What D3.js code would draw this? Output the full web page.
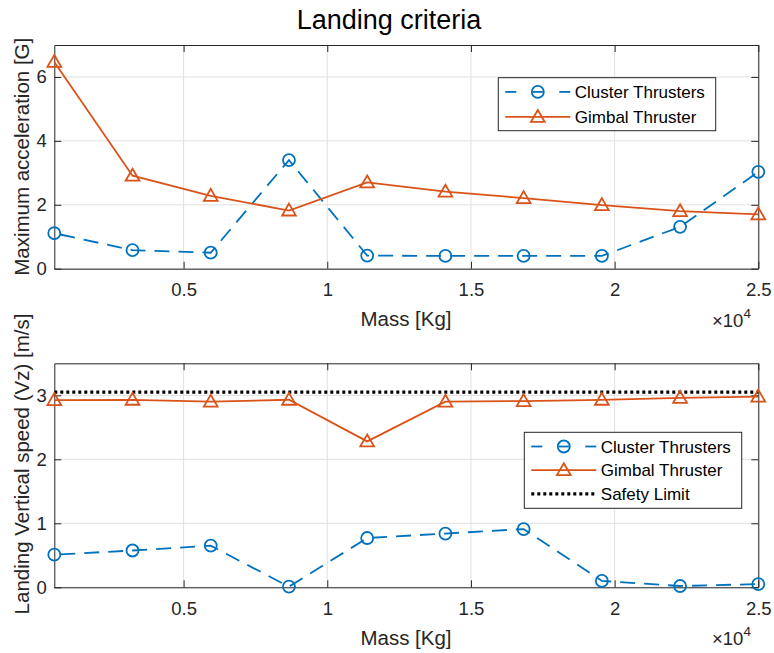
<!DOCTYPE html>
<html><head><meta charset="utf-8">
<script src="https://cdn.jsdelivr.net/npm/d3@7"></script>
<style>body{margin:0;background:#fff;} text{font-family:"Liberation Sans",Arial,sans-serif;}</style>
</head><body><svg id="c" width="774" height="653"></svg>
<script>
const mass = [500, 3222, 5944, 8667, 11389, 14111, 16833, 19556, 22278, 25000];
const accCluster = [1.11, 0.58, 0.50, 3.40, 0.41, 0.40, 0.40, 0.40, 1.31, 3.03];
const accGimbal = [6.47, 2.91, 2.28, 1.82, 2.70, 2.41, 2.21, 1.99, 1.80, 1.70];
const vzCluster = [0.51, 0.575, 0.65, 0.01, 0.77, 0.84, 0.91, 0.10, 0.02, 0.05];
const vzGimbal = [2.925, 2.93, 2.90, 2.93, 2.28, 2.90, 2.91, 2.93, 2.96, 2.98];
const safetyLimit = 3.05;
const xTicks = [5000, 10000, 15000, 20000, 25000];
const xTickLabels = ["0.5", "1", "1.5", "2", "2.5"];
const accTicks = [0, 2, 4, 6];
const vzTicks = [0, 1, 2, 3];
const seriesNames = ["Cluster Thrusters", "Gimbal Thruster", "Safety Limit"];

const BLUE = "#0072BD", ORANGE = "#D95319", AX = "#262626";
const LW = 1.8;
const svg = d3.select("#c");

svg.append("text").attr("x", 389).attr("y", 28.5).attr("text-anchor", "middle")
  .attr("font-size", 27).attr("fill", "#000").text("Landing criteria");

const tri = d3.symbol().type(d3.symbolTriangle).size(82);

function panel(top, bottom, yMax, yTicks, cl, gb, ylabel, ylabelY, legendBox, rowStep, withSafety) {
  const left = 54.3, right = 758.3;
  const x = d3.scaleLinear().domain([500, 25000]).range([left, right]);
  const y = d3.scaleLinear().domain([0, yMax]).range([bottom, top]);
  const g = svg.append("g");
  // grid
  g.selectAll(".gx").data(xTicks).enter().append("line")
    .attr("x1", d => x(d)).attr("x2", d => x(d)).attr("y1", top).attr("y2", bottom)
    .attr("stroke", "#e0e0e0").attr("stroke-width", 1);
  g.selectAll(".gy").data(yTicks).enter().append("line")
    .attr("x1", left).attr("x2", right).attr("y1", d => y(d)).attr("y2", d => y(d))
    .attr("stroke", "#e0e0e0").attr("stroke-width", 1);
  // axes with inward ticks
  const ax = d3.axisBottom(x).tickValues(xTicks).tickFormat((d, i) => xTickLabels[i]).tickSizeInner(-7).tickSizeOuter(0).tickPadding(14.5);
  const ay = d3.axisLeft(y).tickValues(yTicks).tickFormat(d3.format("d")).tickSizeInner(-7).tickSizeOuter(0).tickPadding(7.5);
  const axT = d3.axisTop(x).tickValues(xTicks).tickFormat("").tickSizeInner(-7).tickSizeOuter(0);
  const ayR = d3.axisRight(y).tickValues(yTicks).tickFormat("").tickSizeInner(-7).tickSizeOuter(0);
  [g.append("g").attr("transform", `translate(0,${bottom})`).call(ax),
   g.append("g").attr("transform", `translate(${left},0)`).call(ay),
   g.append("g").attr("transform", `translate(0,${top})`).call(axT),
   g.append("g").attr("transform", `translate(${right},0)`).call(ayR)].forEach(s => {
    s.select(".domain").attr("stroke", AX).attr("stroke-width", 1);
    s.selectAll(".tick line").attr("stroke", AX);
    s.selectAll(".tick text").attr("fill", AX).attr("font-size", 18.5)
      .attr("font-family", "'Liberation Sans',Arial,sans-serif");
  });
  // labels
  g.append("text").attr("x", 406).attr("y", bottom + 57.5).attr("text-anchor", "middle")
    .attr("font-size", 20.5).attr("fill", AX).text("Mass [Kg]");
  const xt = g.append("text").attr("x", 712).attr("y", bottom + 58).attr("font-size", 18.5).attr("fill", AX);
  xt.append("tspan").text("\u00d710");
  xt.append("tspan").attr("font-size", 13.5).attr("dy", -9).text("4");
  g.append("text").attr("transform", `translate(28.5,${ylabelY}) rotate(-90)`)
    .attr("text-anchor", "middle").attr("font-size", 20.5).attr("fill", AX).text(ylabel);

  if (withSafety) {
    g.append("line").attr("x1", left).attr("x2", right).attr("y1", y(safetyLimit)).attr("y2", y(safetyLimit))
      .attr("stroke", "#000").attr("stroke-width", 3.2).attr("stroke-dasharray", "3,3");
  }
  const line = d3.line().x((d, i) => x(mass[i])).y(d => y(d));
  g.append("path").datum(cl).attr("d", line).attr("fill", "none").attr("stroke", BLUE)
    .attr("stroke-width", LW).attr("stroke-dasharray", "15,9").attr("stroke-dashoffset", -6);
  g.append("path").datum(gb).attr("d", line).attr("fill", "none").attr("stroke", ORANGE)
    .attr("stroke-width", LW);
  g.selectAll(".mc").data(cl).enter().append("circle")
    .attr("cx", (d, i) => x(mass[i])).attr("cy", d => y(d)).attr("r", 6)
    .attr("fill", "none").attr("stroke", BLUE).attr("stroke-width", LW);
  g.selectAll(".mg").data(gb).enter().append("path")
    .attr("d", tri).attr("transform", (d, i) => `translate(${x(mass[i])},${y(d) + 1})`)
    .attr("fill", "none").attr("stroke", ORANGE).attr("stroke-width", LW);

  // legend
  const [lx, ly, lw, lh] = legendBox;
  const lg = g.append("g");
  lg.append("rect").attr("x", lx).attr("y", ly).attr("width", lw).attr("height", lh)
    .attr("fill", "#fff").attr("stroke", AX).attr("stroke-width", 1);
  const n = withSafety ? 3 : 2;
  for (let k = 0; k < n; k++) {
    const cy = ly + 14.2 + k * rowStep;
    const x1 = lx + 7, x2 = lx + 72, xm = (x1 + x2) / 2;
    if (k === 0) {
      lg.append("line").attr("x1", x1).attr("x2", x1 + 11).attr("y1", cy).attr("y2", cy)
        .attr("stroke", BLUE).attr("stroke-width", LW);
      lg.append("line").attr("x1", x2 - 11).attr("x2", x2).attr("y1", cy).attr("y2", cy)
        .attr("stroke", BLUE).attr("stroke-width", LW);
      lg.append("line").attr("x1", xm - 5).attr("x2", xm + 5).attr("y1", cy).attr("y2", cy)
        .attr("stroke", BLUE).attr("stroke-width", LW);
      lg.append("circle").attr("cx", xm).attr("cy", cy).attr("r", 6).attr("fill", "none")
        .attr("stroke", BLUE).attr("stroke-width", LW);
    } else if (k === 1) {
      lg.append("line").attr("x1", x1).attr("x2", x2).attr("y1", cy).attr("y2", cy)
        .attr("stroke", ORANGE).attr("stroke-width", LW);
      lg.append("path").attr("d", tri).attr("transform", `translate(${xm},${cy + 1})`)
        .attr("fill", "none").attr("stroke", ORANGE).attr("stroke-width", LW);
    } else {
      lg.append("line").attr("x1", x1).attr("x2", x2).attr("y1", cy).attr("y2", cy)
        .attr("stroke", "#000").attr("stroke-width", 3.2).attr("stroke-dasharray", "3,3");
    }
    lg.append("text").attr("x", lx + 76.5).attr("y", cy + 6).attr("font-size", 17)
      .attr("fill", "#000").text(seriesNames[k]);
  }
}

panel(45, 268.7, 7, accTicks, accCluster, accGimbal, "Maximum acceleration [G]", 156.8, [498.3, 77.7, 217.4, 53], 25, false);
panel(363.3, 587.3, 3.5, vzTicks, vzCluster, vzGimbal, "Landing Vertical speed (Vz) [m/s]", 464, [524.3, 432.3, 217.4, 76], 23.7, true);
</script></body></html>
